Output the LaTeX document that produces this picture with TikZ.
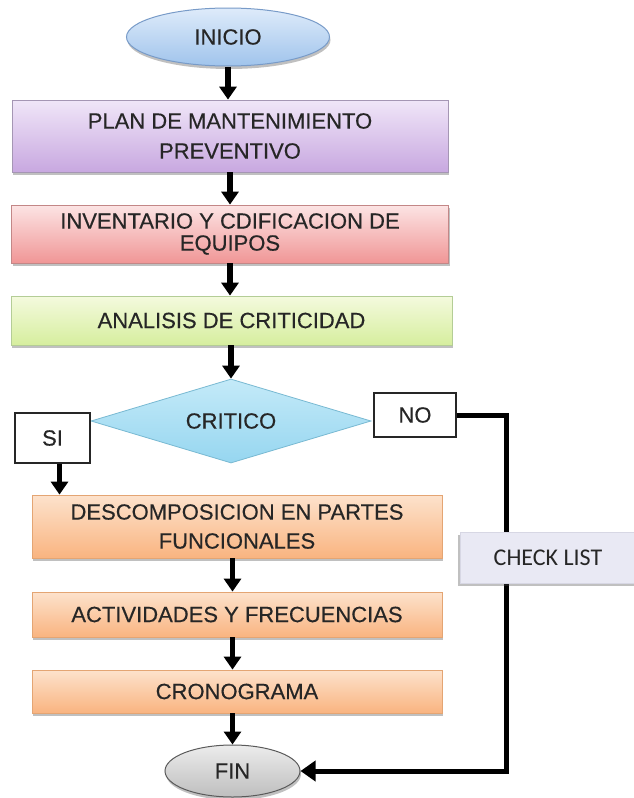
\documentclass[tikz,border=0pt]{standalone}
\usepackage{fontspec}
\setmainfont{Liberation Sans}[FakeBold=0.4]
\newfontfamily\calib{Carlito}
\usetikzlibrary{shapes.geometric,arrows.meta,shadows,shadings}
\definecolor{txtc}{HTML}{262626}
\begin{document}
\begin{tikzpicture}[x=1pt,y=-1pt,
 txt/.style={font=\fontsize{22}{23}\selectfont, text=txtc, align=center},
 shad/.style={drop shadow={shadow xshift=1pt, shadow yshift=-3pt, opacity=0.35, fill=black!70}},
 box/.style={txt, rectangle, draw, line width=0.8pt, inner sep=0pt, shad},
 arr/.style={line width=5.5pt, -{Triangle[width=17pt,length=13pt]}},
 lbl/.style={txt, rectangle, draw=black!85, line width=1.3pt, fill=white, inner sep=0pt}
]
\fill[white] (0,0) rectangle (633,798);
\useasboundingbox (0,0) rectangle (633,798);

\node[txt, ellipse, shad, inner sep=0pt, minimum width=203pt, minimum height=58pt,
  top color={rgb,255:red,222;green,235;blue,250}, bottom color={rgb,255:red,160;green,196;blue,236},
  draw={rgb,255:red,120;green,155;blue,200}, line width=1pt] (inicio) at (228,37) {INICIO};

\node[box, minimum width=436pt, minimum height=72pt,
  top color={rgb,255:red,240;green,230;blue,248}, bottom color={rgb,255:red,200;green,168;blue,224},
  draw={rgb,255:red,165;green,150;blue,180}] (plan) at (230,136) {PLAN DE MANTENIMIENTO\\[7pt]PREVENTIVO};

\node[box, minimum width=437pt, minimum height=58pt, font=\fontsize{22}{22}\selectfont,
  top color={rgb,255:red,252;green,228;blue,228}, bottom color={rgb,255:red,240;green,150;blue,150},
  draw={rgb,255:red,195;green,135;blue,135}] (inv) at (230,234) {INVENTARIO Y CDIFICACION DE\\EQUIPOS};

\node[box, minimum width=441pt, minimum height=49pt,
  top color={rgb,255:red,244;green,250;blue,222}, bottom color={rgb,255:red,214;green,238;blue,158},
  draw={rgb,255:red,180;green,205;blue,150}] (ana) at (231.5,320.5) {ANALISIS DE CRITICIDAD};

\node[txt, diamond, inner sep=0pt, minimum width=280pt, minimum height=84pt, aspect=3.33,
  top color={rgb,255:red,196;green,234;blue,248}, bottom color={rgb,255:red,150;green,214;blue,240},
  draw={rgb,255:red,120;green,185;blue,210}, line width=0.8pt] (crit) at (231,421) {CRITICO};

\node[lbl, minimum width=82pt, minimum height=44pt] (no) at (415,415) {NO};
\node[lbl, minimum width=75pt, minimum height=50pt] (si) at (52.5,438) {SI};

\node[box, minimum width=410pt, minimum height=63pt,
  top color={rgb,255:red,253;green,226;blue,204}, bottom color={rgb,255:red,249;green,180;blue,128},
  draw={rgb,255:red,228;green,165;blue,115}] (desc) at (237,526.5) {DESCOMPOSICION EN PARTES\\[6pt]FUNCIONALES};

\node[box, minimum width=410pt, minimum height=45pt,
  top color={rgb,255:red,253;green,226;blue,204}, bottom color={rgb,255:red,249;green,180;blue,128},
  draw={rgb,255:red,228;green,165;blue,115}] (act) at (237,614.5) {ACTIVIDADES Y FRECUENCIAS};

\node[box, minimum width=410pt, minimum height=43pt,
  top color={rgb,255:red,253;green,226;blue,204}, bottom color={rgb,255:red,249;green,180;blue,128},
  draw={rgb,255:red,228;green,165;blue,115}] (cron) at (237,691.5) {CRONOGRAMA};

\node[txt, ellipse, inner sep=0pt, minimum width=135pt, minimum height=52pt, shad,
  top color={rgb,255:red,236;green,236;blue,236}, bottom color={rgb,255:red,190;green,190;blue,190},
  draw={rgb,255:red,90;green,90;blue,90}, line width=1pt] (fin) at (232.5,771) {FIN};

% connectors
\draw[arr] (inicio.south) -- (inicio.south |- plan.north);
\draw[arr] (plan.south) -- (inv.north);
\draw[arr] (inv.south) -- (ana.north -| inv.south);
\draw[arr] (ana.south -| crit.north) -- (crit.north);
\draw[arr] ([xshift=7pt]si.south) -- ([xshift=7pt]si.south |- desc.north);
\draw[arr] (desc.south -| fin.north) -- (act.north -| fin.north);
\draw[arr] (act.south -| fin.north) -- (cron.north -| fin.north);
\draw[arr] (cron.south -| fin.north) -- (fin.north);

\coordinate (turn) at (506,415);
\draw[line width=5pt, line join=miter, -{Triangle[width=20pt,length=15pt]}]
  (no.east) -- (turn) |- (fin.east);

\node[rectangle, inner sep=0pt, minimum width=176pt, minimum height=51pt,
  fill={rgb,255:red,233;green,233;blue,244}, draw={rgb,255:red,215;green,215;blue,228}, line width=0.6pt,
  drop shadow={shadow xshift=-2pt, shadow yshift=-3pt, opacity=0.35, fill=black!70},
  font=\calib\fontsize{24}{26}\selectfont, text=txtc] (check) at (548,557.5) {CHECK LIST};
\end{tikzpicture}
\end{document}
